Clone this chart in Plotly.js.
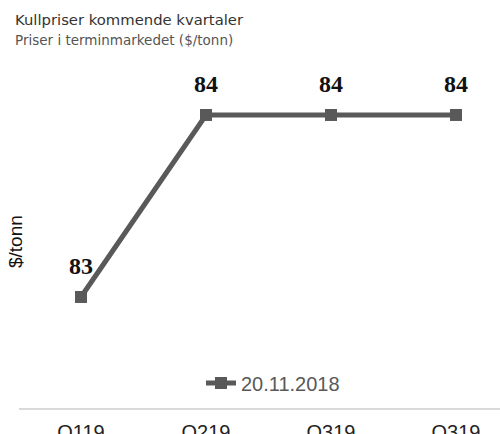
<!DOCTYPE html>
<html>
<head>
<meta charset="utf-8">
<script src="https://cdn.plot.ly/plotly-3.0.1.min.js"></script>
<style>html,body{margin:0;padding:0;background:#fff;}#chart{width:500px;height:434px;}</style>
</head>
<body>
<div id="chart"></div>
<script>
const categories = [0, 1, 2, 3];
const tickLabels = ["Q119", "Q219", "Q319", "Q319"];
const prices = [83, 84, 84, 84];
const seriesName = "20.11.2018";
const titleText = "Kullpriser kommende kvartaler";
const subtitleText = "Priser i terminmarkedet ($/tonn)";
const yTitle = "$/tonn";

const trace = {
  x: categories,
  y: prices,
  type: "scatter",
  mode: "lines+markers",
  name: seriesName,
  line: {color: "#595959", width: 5},
  marker: {symbol: "square", size: 12, color: "#595959"},
  showlegend: true,
  hoverinfo: "none"
};

const annotations = categories.map((c, i) => ({
  x: c, y: prices[i], xref: "x", yref: "y",
  text: String(Math.round(prices[i])),
  showarrow: false, yshift: 31,
  font: {family: "Liberation Serif, serif", size: 24, weight: 700, color: "#111"}
}));

// plot area: top 60, bottom 408 (height 348); left 19, width 481
annotations.push({
  xref: "paper", yref: "paper", x: -6/481, y: (408-19)/348, xanchor: "left", yanchor: "middle",
  text: titleText, showarrow: false,
  font: {family: "DejaVu Sans, sans-serif", size: 14.8, color: "#333"}
});
annotations.push({
  xref: "paper", yref: "paper", x: -6/481, y: (408-40)/348, xanchor: "left", yanchor: "middle",
  text: subtitleText, showarrow: false,
  font: {family: "DejaVu Sans, sans-serif", size: 13.5, color: "#555"}
});
annotations.push({
  xref: "paper", yref: "paper", x: -4/481, y: (408-242)/348, xanchor: "center", yanchor: "middle",
  text: yTitle, showarrow: false, textangle: -90,
  font: {family: "Liberation Sans, Arial, sans-serif", size: 19, color: "#111"}
});

const layout = {
  width: 500, height: 434,
  margin: {l: 19, r: 0, t: 60, b: 26, pad: 0},
  paper_bgcolor: "#fff", plot_bgcolor: "#fff",
  showlegend: true,
  xaxis: {
    type: "linear",
    range: [-0.496, 3.352],
    tickvals: categories, ticktext: tickLabels,
    showgrid: false, zeroline: false,
    showline: true, linecolor: "#d9d9d9", linewidth: 2,
    ticks: "", ticklabelstandoff: 5,
    tickfont: {family: "Liberation Sans, Arial, sans-serif", size: 20, color: "#222"},
    automargin: false, fixedrange: true
  },
  yaxis: {
    range: [82.39, 84.302],
    showgrid: false, zeroline: false, showline: false,
    showticklabels: false, ticks: "",
    automargin: false, fixedrange: true
  },
  legend: {
    orientation: "h",
    xref: "paper", yref: "paper",
    x: (201-19)/481, xanchor: "left", y: (408-383)/348, yanchor: "middle",
    bgcolor: "rgba(0,0,0,0)",
    font: {family: "Liberation Sans, Arial, sans-serif", size: 20, color: "#595959"}
  },
  annotations: annotations
};

Plotly.newPlot("chart", [trace], layout, {displayModeBar: false, staticPlot: true});
</script>
</body>
</html>
